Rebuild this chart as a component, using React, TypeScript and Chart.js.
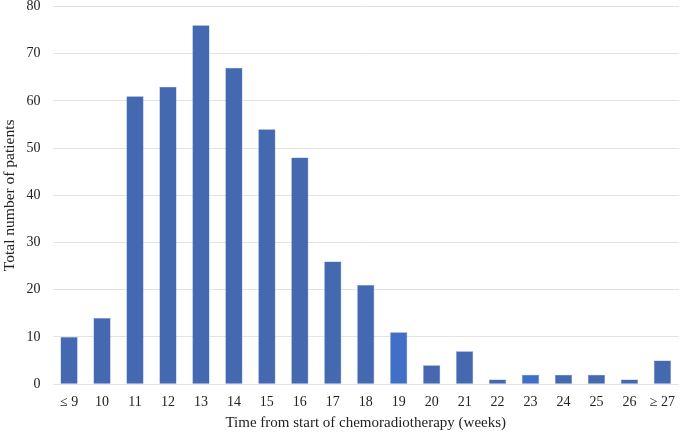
import React, { useEffect, useRef } from "react";
import { Chart, registerables } from "chart.js";
Chart.register(...registerables);

const categories = ["≤ 9", "10", "11", "12", "13", "14", "15", "16", "17", "18", "19", "20", "21", "22", "23", "24", "25", "26", "≥ 27"];
const patients = [10, 14, 61, 63, 76, 67, 54, 48, 26, 21, 11, 4, 7, 1, 2, 2, 2, 1, 5];
const yTicks = [0, 10, 20, 30, 40, 50, 60, 70, 80];

const FONT = "'Liberation Serif', 'Times New Roman', serif";
const SHIFT = 14;

export default function App() {
  const ref = useRef<HTMLCanvasElement | null>(null);
  useEffect(() => {
    document.body.style.margin = "0";
    const ctx = ref.current!.getContext("2d")!;
    const colors = patients.map((_, i) => {
      if (categories[i] === "19" || categories[i] === "23") {
        return "#3f6fc6";
      }
      return "#4469b0";
    });
    const chart = new Chart(ctx, {
      type: "bar",
      data: {
        labels: categories,
        datasets: [
          {
            data: patients,
            backgroundColor: colors,
            borderColor: "#6b8bc8",
            borderWidth: 0.5,
            barPercentage: 0.52,
            categoryPercentage: 1,
          },
        ],
      },
      options: {
        animation: false,
        responsive: false,
        layout: { padding: { top: 0, right: 0, left: 1, bottom: 0 } },
        plugins: { legend: { display: false }, tooltip: { enabled: false } },
        scales: {
          x: {
            grid: { display: false, drawTicks: false },
            border: { display: false },
            ticks: { color: "#222", font: { family: FONT, size: 14 }, padding: 10, maxRotation: 0, autoSkip: false },
            title: { display: true, text: "Time from start of chemoradiotherapy (weeks)", color: "#222", font: { family: FONT, size: 15 }, padding: { top: -7, bottom: 0 } },
          },
          y: {
            min: 0,
            max: 80,
            afterBuildTicks: (axis: any) => {
              axis.ticks = yTicks.map((v) => ({ value: v }));
            },
            grid: { color: "#e3e3e3", drawTicks: false, lineWidth: 1 },
            border: { display: false },
            ticks: { color: "#222", font: { family: FONT, size: 14 }, padding: 12 },
            title: { display: true, text: "Total number of patients", color: "#222", font: { family: FONT, size: 15.5 }, padding: { top: 0, bottom: -5 } },
          },
        },
      },
    });
    return () => chart.destroy();
  }, []);
  return (
    <div style={{ position: "absolute", left: 0, top: 0, width: 685, height: 432, overflow: "hidden" }}>
      <canvas ref={ref} width={685} height={432 + SHIFT} style={{ position: "absolute", left: 0, top: -SHIFT }} />
    </div>
  );
}
